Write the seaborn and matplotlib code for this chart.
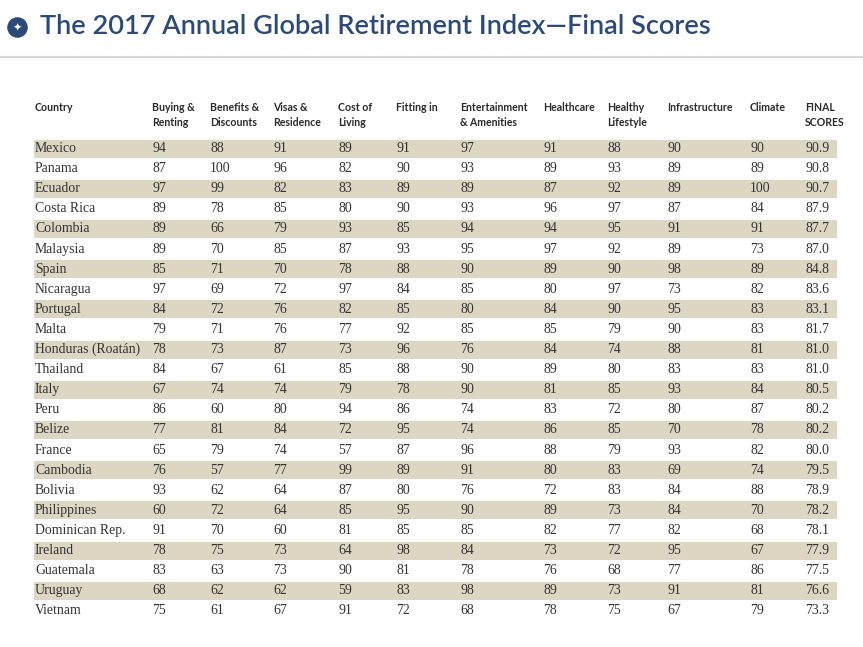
import numpy as np
import matplotlib.pyplot as plt
import seaborn as sns

sns.set_style('white')

countries = ["Mexico", "Panama", "Ecuador", "Costa Rica", "Colombia", "Malaysia", "Spain",
             "Nicaragua", "Portugal", "Malta", "Honduras (Roatán)", "Thailand", "Italy", "Peru",
             "Belize", "France", "Cambodia", "Bolivia", "Philippines", "Dominican Rep.",
             "Ireland", "Guatemala", "Uruguay", "Vietnam"]
headers = ["Country", "Buying &\nRenting", "Benefits &\nDiscounts", "Visas &\nResidence",
           "Cost of\nLiving", "Fitting in", "Entertainment\n& Amenities", "Healthcare",
           "Healthy\nLifestyle", "Infrastructure", "Climate", "FINAL\nSCORES"]
buying = [94, 87, 97, 89, 89, 89, 85, 97, 84, 79, 78, 84, 67, 86, 77, 65, 76, 93, 60, 91, 78, 83, 68, 75]
benefits = [88, 100, 99, 78, 66, 70, 71, 69, 72, 71, 73, 67, 74, 60, 81, 79, 57, 62, 72, 70, 75, 63, 62, 61]
visas = [91, 96, 82, 85, 79, 85, 70, 72, 76, 76, 87, 61, 74, 80, 84, 74, 77, 64, 64, 60, 73, 73, 62, 67]
cost = [89, 82, 83, 80, 93, 87, 78, 97, 82, 77, 73, 85, 79, 94, 72, 57, 99, 87, 85, 81, 64, 90, 59, 91]
fitting = [91, 90, 89, 90, 85, 93, 88, 84, 85, 92, 96, 88, 78, 86, 95, 87, 89, 80, 95, 85, 98, 81, 83, 72]
entertainment = [97, 93, 89, 93, 94, 95, 90, 85, 80, 85, 76, 90, 90, 74, 74, 96, 91, 76, 90, 85, 84, 78, 98, 68]
healthcare = [91, 89, 87, 96, 94, 97, 89, 80, 84, 85, 84, 89, 81, 83, 86, 88, 80, 72, 89, 82, 73, 76, 89, 78]
healthy = [88, 93, 92, 97, 95, 92, 90, 97, 90, 79, 74, 80, 85, 72, 85, 79, 83, 83, 73, 77, 72, 68, 73, 75]
infra = [90, 89, 89, 87, 91, 89, 98, 73, 95, 90, 88, 83, 93, 80, 70, 93, 69, 84, 84, 82, 95, 77, 91, 67]
climate = [90, 89, 100, 84, 91, 73, 89, 82, 83, 83, 81, 83, 84, 87, 78, 82, 74, 88, 70, 68, 67, 86, 81, 79]
final = [90.9, 90.8, 90.7, 87.9, 87.7, 87.0, 84.8, 83.6, 83.1, 81.7, 81.0, 81.0, 80.5, 80.2,
         80.2, 80.0, 79.5, 78.9, 78.2, 78.1, 77.9, 77.5, 76.6, 73.3]

columns = [buying, benefits, visas, cost, fitting, entertainment, healthcare, healthy, infra, climate]
col_x = [35, 152, 210, 273, 338, 396, 460, 543, 607, 667, 750, 805]

W, H = 863, 647
fig = plt.figure(figsize=(W / 100, H / 100), dpi=100)
ax = fig.add_axes([0, 0, 1, 1])
ax.set_xlim(0, W)
ax.set_ylim(H, 0)
ax.axis('off')

# striped rows via a heatmap
n = len(countries)
top, step = 138.5, 20.1
hax = fig.add_axes([33 / W, 1 - (top + n * step) / H, (838 - 33) / W, n * step / H])
parity = np.array([[1 - i % 2] for i in range(n)])
sns.heatmap(parity, ax=hax, cmap=['white', '#dcd6c3'], cbar=False,
            linewidths=1.2, linecolor='white', xticklabels=False, yticklabels=False)
hax.set_zorder(0)
ax.set_zorder(1)
ax.patch.set_alpha(0)

# title
ax.plot([0, W], [57, 57], color='#d8d8d8', lw=1.5)
ax.scatter([17], [27], s=190, color='#2b4a7a')
ax.text(17, 27.5, '✦', color='white', fontsize=8, ha='center', va='center')
ax.text(40, 27, 'The 2017 Annual Global Retirement Index—Final Scores',
        fontsize=19.5, color='#2b4a7a', family='Lato', fontweight='semibold', va='center')

# headers
for x, h in zip(col_x, headers):
    ax.text(x, 102, h, fontsize=7.6, fontweight='bold', family='Lato',
            color='#2a2a2a', va='top', linespacing=1.45)

# body
for i, c in enumerate(countries):
    y = top + step * (i + 0.5)
    kw = dict(fontsize=9.9, family='Liberation Serif', color='#333333', va='center')
    ax.text(col_x[0], y, c, **kw)
    for x, vals in zip(col_x[1:-1], columns):
        ax.text(x, y, str(vals[i]), **kw)
    ax.text(col_x[-1], y, f'{final[i]:.1f}', **kw)

fig.savefig('out.png', dpi=100)
plt.close(fig)
